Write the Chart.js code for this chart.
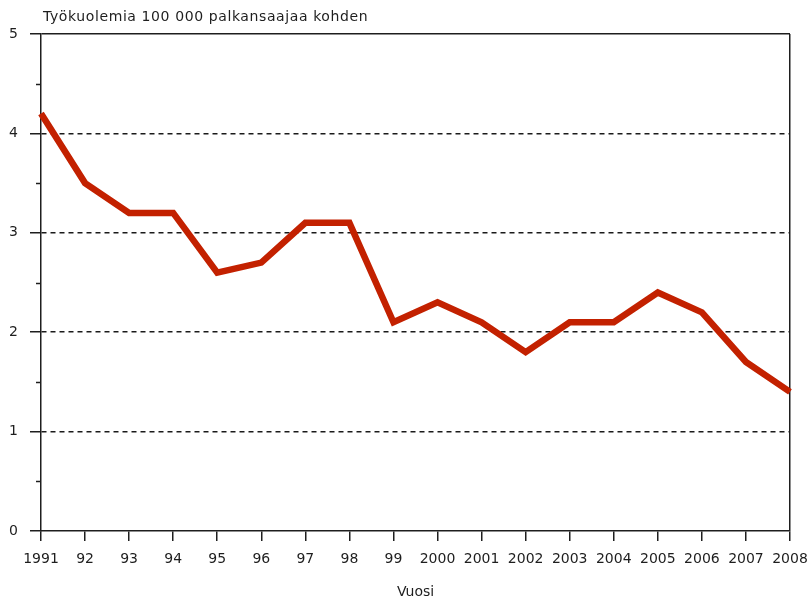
<!DOCTYPE html>
<html>
<head>
<meta charset="utf-8">
<script src="https://cdn.jsdelivr.net/npm/chart.js@4"></script>
<style>
  html, body { margin: 0; padding: 0; background: #ffffff; }
  canvas { display: block; }
</style>
</head>
<body>
<canvas id="c" width="808" height="598"></canvas>
<script>
const years = ["1991","92","93","94","95","96","97","98","99","2000","2001","2002","2003","2004","2005","2006","2007","2008"];
const deaths = [4.2, 3.5, 3.2, 3.2, 2.6, 2.7, 3.1, 3.1, 2.1, 2.3, 2.1, 1.8, 2.1, 2.1, 2.4, 2.2, 1.7, 1.4];
const yTicks = [0, 1, 2, 3, 4, 5];
const yTitle = "Työkuolemia 100 000 palkansaajaa kohden";
const xTitle = "Vuosi";

const FONT = "DejaVu Sans, sans-serif";
const INK = "#1e1e1e";

const extras = {
  id: "extras",
  afterDraw(chart) {
    const ctx = chart.ctx;
    const y = chart.scales.y;
    const left = chart.chartArea.left;
    ctx.save();
    ctx.strokeStyle = INK;
    ctx.lineWidth = 1.5;
    for (let i = 0; i < yTicks.length - 1; i++) {
      const v = (yTicks[i] + yTicks[i + 1]) / 2;
      const py = Math.round(y.getPixelForValue(v)) + 0.5;
      ctx.beginPath();
      ctx.moveTo(left - 5, py);
      ctx.lineTo(left, py);
      ctx.stroke();
    }
    ctx.fillStyle = INK;
    ctx.font = "14px " + FONT;
    if ("letterSpacing" in ctx) ctx.letterSpacing = "0.6px";
    ctx.textBaseline = "middle";
    ctx.textAlign = "left";
    ctx.fillText(yTitle, left + 2, 17);
    ctx.restore();
  }
};

new Chart(document.getElementById("c"), {
  type: "line",
  data: {
    labels: years,
    datasets: [{
      data: deaths,
      borderColor: "#c32100",
      borderWidth: 6.5,
      pointRadius: 0,
      tension: 0,
      fill: false,
      borderJoinStyle: "miter"
    }]
  },
  options: {
    responsive: false,
    animation: false,
    layout: { padding: { top: 34, right: 18, left: 0, bottom: 0 } },
    plugins: { legend: { display: false }, tooltip: { enabled: false } },
    scales: {
      x: {
        offset: false,
        afterFit(s) { s.height = 67; s.paddingLeft = 0; s.paddingRight = 0; },
        grid: {
          drawOnChartArea: true,
          color: (c) => (c.index === years.length - 1 ? INK : "transparent"),
          lineWidth: 1.5,
          tickColor: INK,
          tickLength: 10,
          tickWidth: 1.5
        },
        border: { display: true, color: INK, width: 1.5 },
        ticks: {
          color: INK,
          font: { family: FONT, size: 14 },
          padding: 10,
          maxRotation: 0,
          autoSkip: false
        },
        title: {
          display: true,
          text: xTitle,
          color: INK,
          font: { family: FONT, size: 14 },
          padding: { top: 4, bottom: -3 }
        }
      },
      y: {
        min: 0,
        max: 5,
        afterFit(s) { s.width = 41; s.paddingTop = 0; s.paddingBottom = 0; },
        ticks: {
          stepSize: 0.5,
          color: INK,
          font: { family: FONT, size: 14 },
          padding: 12,
          callback: (v) => (Number.isInteger(v) ? String(v) : "")
        },
        grid: {
          color: (c) => {
            const v = c.tick ? c.tick.value : null;
            if (v === 5) return INK;
            if (Number.isInteger(v) && v > 0) return "#1a1a1a";
            return "transparent";
          },
          lineWidth: 1.5,
          tickColor: (c) => (c.tick && Number.isInteger(c.tick.value) ? INK : "transparent"),
          tickLength: 11,
          tickWidth: 1.5
        },
        border: {
          display: true,
          color: INK,
          width: 1.5,
          dash: (c) => (c.tick && c.tick.value === 5 ? [] : [5, 4])
        }
      }
    }
  },
  plugins: [extras]
});
</script>
</body>
</html>
